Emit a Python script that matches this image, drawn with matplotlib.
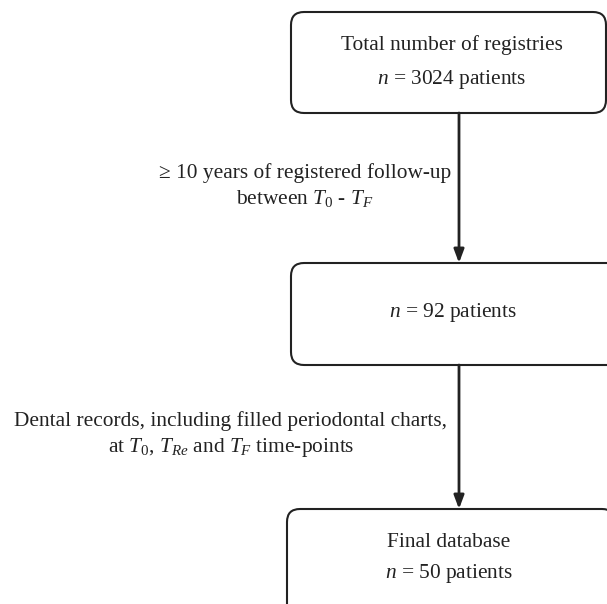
import matplotlib
matplotlib.use("Agg")
import matplotlib.pyplot as plt
from matplotlib.patches import FancyBboxPatch

plt.rcParams["font.family"] = "Liberation Serif"
plt.rcParams["mathtext.fontset"] = "custom"
plt.rcParams["mathtext.rm"] = "Liberation Serif"
plt.rcParams["mathtext.it"] = "Liberation Serif:italic"

# flowchart content
box_texts = [
    "Total number of registries\n$n$ = 3024 patients",
    "$n$ = 92 patients",
    "Final database\n$n$ = 50 patients",
]
step_texts = [
    "\u2265 10 years of registered follow-up\nbetween $T_{\\mathit{0}}$ - $T_F$",
    "Dental records, including filled periodontal charts,\n"
    "at $T_{\\mathit{0}}$, $T_{Re}$ and $T_F$ time-points",
]

W, H = 607, 604
fig = plt.figure(figsize=(W / 100, H / 100), dpi=100)
ax = fig.add_axes([0, 0, 1, 1])
ax.set_xlim(0, W)
ax.set_ylim(H, 0)
ax.axis("off")

col = "#222222"
fs = 15.4
# (left, top, right, bottom) in pixels
boxes = [(291, 12, 606, 113), (291, 263, 640, 365), (287, 509, 615, 660)]
text_xy = [(452, 63), (453, 312), (449, 559)]
text_ls = [1.8, 1.0, 1.6]
label_pos = [(305, 186), (231, 435)]
arrow_x = 459

for (l, t, r, b), txt, (tx, ty), ls in zip(boxes, box_texts, text_xy, text_ls):
    p = FancyBboxPatch((l, t), r - l, b - t,
                       boxstyle="round,pad=0,rounding_size=13",
                       fc="white", ec=col, lw=1.5)
    ax.add_patch(p)
    ax.text(tx, ty, txt, ha="center", va="center", fontsize=fs,
            color=col, linespacing=ls)

for i, (lx, ly) in enumerate(label_pos):
    y0 = boxes[i][3]
    y1 = boxes[i + 1][1]
    ax.annotate("", xy=(arrow_x, y1), xytext=(arrow_x, y0),
                arrowprops=dict(arrowstyle="-|>,head_length=0.8,head_width=0.3",
                                color=col, lw=2, shrinkA=0, shrinkB=0))
    ax.text(lx, ly, step_texts[i], ha="center", va="center", fontsize=fs,
            color=col, linespacing=1.35)

fig.savefig("out.png", dpi=100)
